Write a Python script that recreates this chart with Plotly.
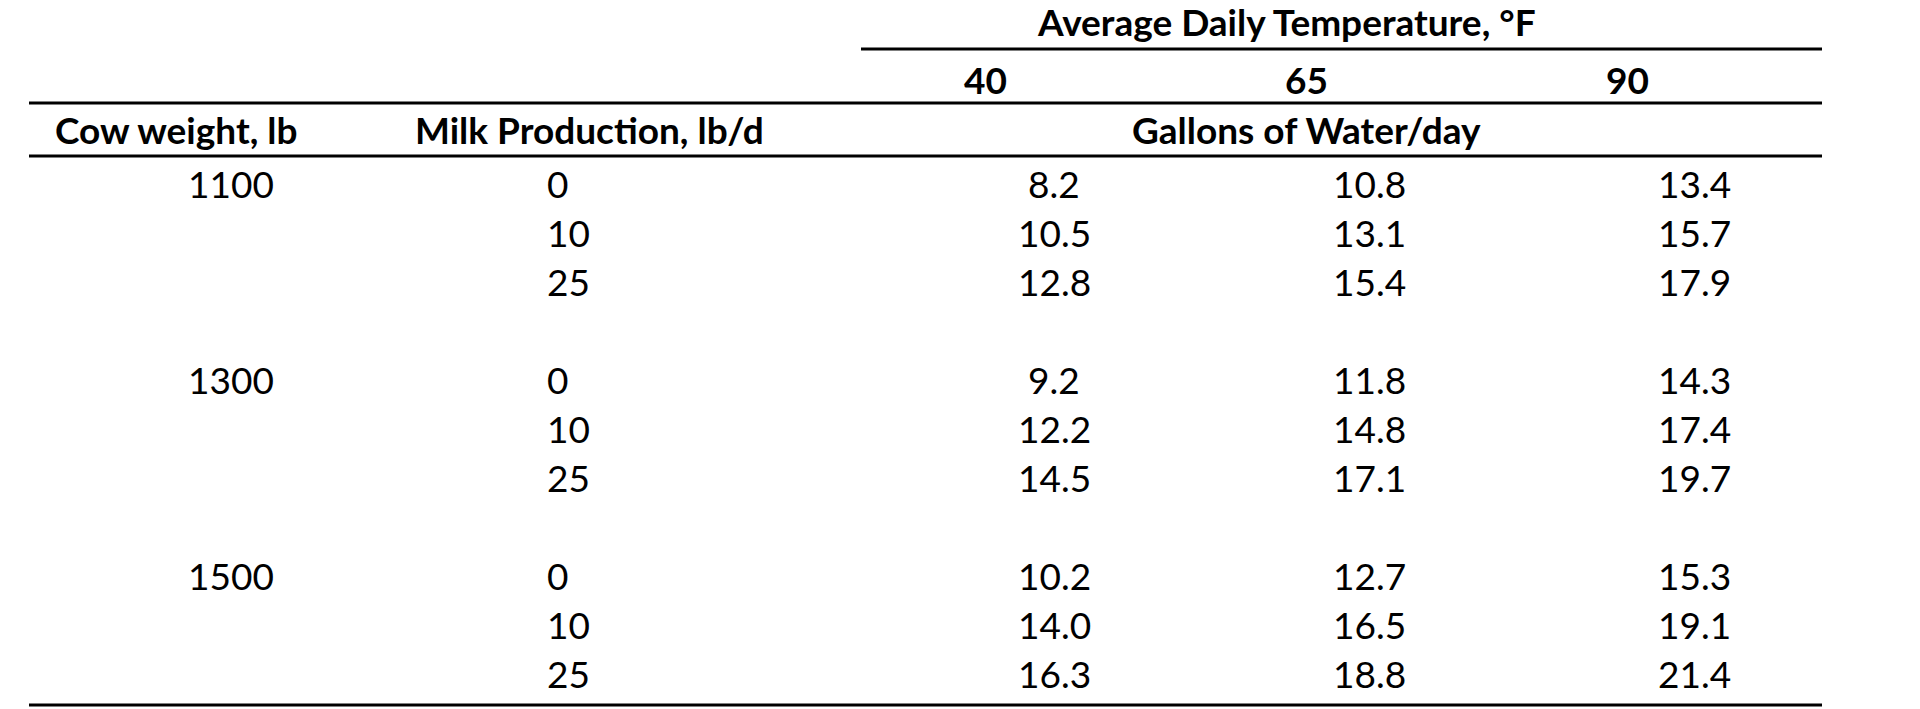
import plotly.graph_objects as go

temps = ["40", "65", "90"]
weights = ["1100", "1300", "1500"]
milk = ["0", "10", "25"]
water = [
    [["8.2", "10.8", "13.4"], ["10.5", "13.1", "15.7"], ["12.8", "15.4", "17.9"]],
    [["9.2", "11.8", "14.3"], ["12.2", "14.8", "17.4"], ["14.5", "17.1", "19.7"]],
    [["10.2", "12.7", "15.3"], ["14.0", "16.5", "19.1"], ["16.3", "18.8", "21.4"]],
]
title = "Average Daily Temperature, °F"
headers = ["Cow weight, lb", "Milk Production, lb/d", "Gallons of Water/day"]

F = "Lato, 'Open Sans', sans-serif"
FS = 37
fig = go.Figure()
ann = []
def t(x, y, s, bold=False, anchor="center"):
    ann.append(dict(x=x, y=y, text=f"<b>{s}</b>" if bold else s, showarrow=False,
                    xanchor=anchor, yanchor="middle", xref="x", yref="y",
                    font=dict(family=F, size=FS, color="black")))

t(1278, 13, title, True)
tx = [977, 1298, 1619]
for x, s in zip(tx, temps):
    t(x, 71, s, True)
t(168, 121, headers[0], True)
t(581, 121, headers[1], True)
t(1298, 121, headers[2], True)

vx = [1046, 1361, 1686]
y0s = [175, 371, 567]
for g, w in enumerate(weights):
    for r, m in enumerate(milk):
        y = y0s[g] + r * 49
        if r == 0:
            t(223, y, w)
        t(537, y, m, anchor="left")
        for c in range(3):
            t(vx[c], y, water[g][r][c])

shapes = []
for x0, x1, y in [(853, 1814, 41), (21, 1814, 95), (21, 1814, 148), (21, 1814, 697)]:
    shapes.append(dict(type="line", x0=x0, x1=x1, y0=y, y1=y, xref="x", yref="y",
                       line=dict(color="black", width=3)))

fig.update_layout(width=1920, height=709, margin=dict(l=0, r=0, t=0, b=0),
                  plot_bgcolor="white", paper_bgcolor="white",
                  annotations=ann, shapes=shapes,
                  xaxis=dict(range=[0, 1920], visible=False),
                  yaxis=dict(range=[709, 0], visible=False))
fig.write_html("out.html")
